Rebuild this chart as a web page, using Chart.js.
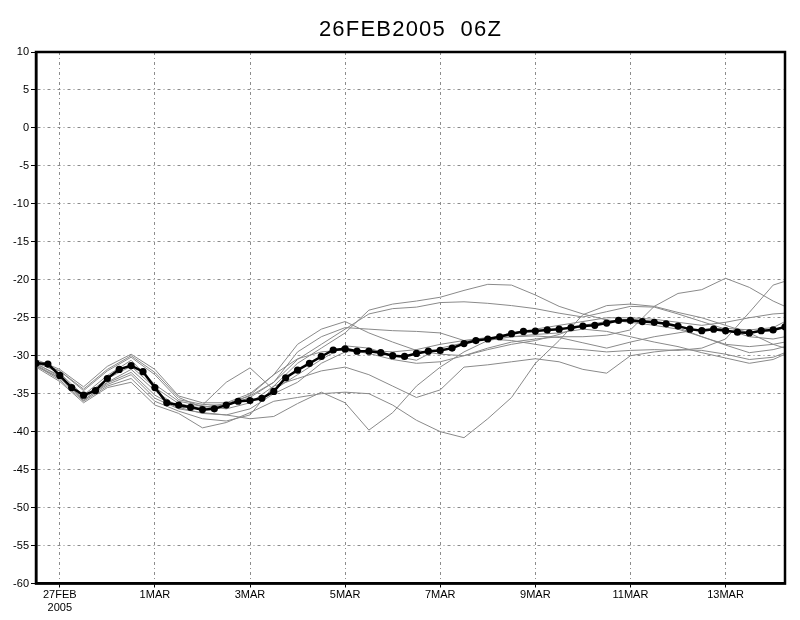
<!DOCTYPE html>
<html>
<head>
<meta charset="utf-8">
<script src="https://cdn.jsdelivr.net/npm/chart.js@4/dist/chart.umd.min.js"></script>
<style>
  html, body { margin: 0; padding: 0; background: #fff; }
  #wrap { width: 800px; height: 620px; }
</style>
</head>
<body>
<div id="wrap"><canvas id="chart" width="800" height="620"></canvas></div>
<script>
// Time axis: hours after 26FEB2005 12Z (forecast from 06Z run)
const xTickHours = [12, 60, 108, 156, 204, 252, 300, 348];
const xTickLabels = [['27FEB', '2005'], '1MAR', '3MAR', '5MAR', '7MAR', '9MAR', '11MAR', '13MAR'];
const titleText = '26FEB2005  06Z';

// Ensemble mean, every 6 hours
const meanVals = [-31, -31.1, -32.6, -34.2, -35.2, -34.6, -33.0, -31.8, -31.3, -32.1,
  -34.2, -36.2, -36.5, -36.8, -37.1, -37.0, -36.5, -36.0, -35.9, -35.6,
  -34.7, -32.9, -31.9, -31.0, -30.1, -29.25, -29.1, -29.4, -29.4, -29.6,
  -30.0, -30.1, -29.7, -29.4, -29.3, -29.0, -28.4, -28.0, -27.8, -27.5,
  -27.1, -26.8, -26.75, -26.6, -26.5, -26.3, -26.1, -26.0, -25.7, -25.35,
  -25.35, -25.5, -25.6, -25.8, -26.1, -26.5, -26.7, -26.5, -26.7, -26.9,
  -27.0, -26.7, -26.6, -26.2];

// Members, every 12 hours (last one at +378h)
const member1 = [-30.8, -32.3, -35.2, -32.6, -30.6, -33.8, -36, -36.6, -37, -36.2,
  -34, -31, -29, -27, -24, -23.2, -22.8, -22.3, -21.4, -20.6, -20.7, -22, -23.5, -24.5,
  -25.3, -25.6, -26, -26.5, -27.5, -28.5, -28.8, -28.5, -28.2];
const member2 = [-31.0, -32.0, -34.6, -32.0, -30.2, -32.5, -35.8, -36.4, -36.6, -35.5,
  -33.5, -30.5, -28.5, -26.5, -24.5, -23.8, -23.6, -23, -22.9, -23.1, -23.4, -23.8, -24.4, -24.9,
  -24.2, -23.5, -23.6, -24.5, -25.5, -26.5, -27.5, -27.8, -27.5];
const member3 = [-30.5, -31.8, -34.1, -31.4, -29.8, -31.8, -35.3, -36.2, -36.2, -35,
  -32.5, -30.4, -29.5, -29.2, -29.7, -30.5, -31, -30.8, -30, -29, -28.2, -27.8, -27.5, -27.5,
  -27.3, -26.6, -23.5, -21.8, -21.3, -19.8, -21, -22.8, -23.5];
const member4 = [-31.2, -33.0, -35.6, -33.5, -31.8, -34.6, -36.8, -37.6, -37.8, -37,
  -35, -33.5, -31, -29.5, -29.3, -29.5, -29.2, -28.5, -28, -27.8, -28, -28.5, -29, -29.2,
  -29.5, -29.3, -29.2, -29.3, -29, -27.8, -24.3, -20.7, -20.2];
const member5 = [-31.5, -33.4, -36.2, -34.2, -33.5, -36.5, -37.6, -39.5, -38.8, -37.5,
  -36, -35.5, -35, -34.8, -35, -36.5, -38.5, -40, -40.8, -38.3, -35.5, -31, -28, -24.6,
  -23.4, -23.2, -23.5, -24.3, -25, -26, -27, -28.5, -29];
const member6 = [-31.0, -32.8, -35.8, -33.8, -32.5, -35.6, -37, -37.5, -37.8, -38.3,
  -38, -36.3, -34.8, -36.2, -39.8, -37.5, -34, -31.5, -29.5, -28, -27.5, -27.2, -27, -26.5,
  -26.8, -27.5, -28.2, -28.8, -29.6, -30.3, -31, -30.5, -29.8];
const member7 = [-31.3, -33.2, -36, -34, -33, -36, -37.3, -38.3, -38.6, -37.8,
  -34, -33, -32, -31.5, -32.5, -34, -35.5, -34.5, -31.5, -31.2, -30.8, -30.4, -30.8, -31.8,
  -32.3, -30, -29.5, -29.2, -29.3, -29.8, -30.5, -30.2, -29.6];
const member8 = [-30.7, -32.0, -34.4, -31.8, -30.0, -32.2, -35.5, -36.8, -36.3, -35.3,
  -33.5, -29.5, -27.5, -26.3, -26.5, -26.7, -26.8, -27, -28, -27.6, -27.5, -27.4, -27.6, -28.3,
  -29, -28.2, -27.5, -27, -26.5, -26.4, -26.6, -26.3, -25.5];
const member9 = [-31.1, -32.6, -35.4, -33.0, -31.4, -34.2, -36.3, -37, -36.5, -35.2,
  -32.5, -28.5, -26.5, -25.5, -27, -28.2, -29.3, -29.8, -30, -29.2, -28.5, -28, -27.2, -26,
  -25.5, -25.2, -25.5, -26.3, -27.5, -28.6, -29.6, -29.2, -28.8];
const member10 = [-31.4, -32.9, -35.9, -33.6, -32.2, -35.2, -36.9, -36.5, -33.5, -31.6,
  -34.5, -32.5, -30.5, -28.7, -29, -30, -30.6, -29, -28.3, -27.8, -27, -26.5, -26, -25.5,
  -25, -25, -25.2, -25.6, -26, -25.6, -25, -24.5, -24.4];

const members = [member1, member2, member3, member4, member5, member6, member7, member8, member9, member10];

const meanHours = meanVals.map((v, i) => i * 6);
const memberHours = member1.map((v, i) => Math.min(i * 12, 378));

// Frame round the plot, and the title centred over it
const frame = {
  id: 'frame',
  afterDatasetsDraw(chart) {
    const a = chart.chartArea, c = chart.ctx;
    c.save();
    c.strokeStyle = '#000';
    c.lineWidth = 2.5;
    c.strokeRect(a.left, a.top, a.right - a.left, a.bottom - a.top);
    c.fillStyle = '#000';
    c.font = '22px "Liberation Sans"';
    c.letterSpacing = '1.2px';
    c.textAlign = 'center';
    c.textBaseline = 'middle';
    c.fillText(titleText, (a.left + a.right) / 2, 30);
    c.restore();
  }
};

const datasets = [{
  label: 'mean',
  data: meanVals.map((v, i) => ({ x: meanHours[i], y: v })),
  borderColor: '#000',
  backgroundColor: '#000',
  borderWidth: 2.5,
  pointRadius: 3.6,
  pointBorderWidth: 0,
  tension: 0
}];
members.forEach((m, k) => {
  datasets.push({
    label: 'member ' + (k + 1),
    data: m.map((v, i) => ({ x: memberHours[i], y: v })),
    borderColor: '#8a8a8a',
    borderWidth: 1,
    pointRadius: 0,
    tension: 0
  });
});

new Chart(document.getElementById('chart'), {
  type: 'line',
  data: { datasets: datasets },
  plugins: [frame],
  options: {
    responsive: false,
    animation: false,
    devicePixelRatio: 1,
    layout: { padding: { left: 0, right: 15, top: 52, bottom: 0 } },
    plugins: {
      legend: { display: false },
      tooltip: { enabled: false },
      title: { display: false }
    },
    scales: {
      x: {
        type: 'linear',
        min: 0,
        max: 378,
        afterBuildTicks: (scale) => { scale.ticks = xTickHours.map(h => ({ value: h })); },
        afterFit: (scale) => { scale.height = 36.5; },
        ticks: {
          autoSkip: false,
          maxRotation: 0,
          padding: 1,
          color: '#000',
          font: { family: 'Liberation Sans', size: 11 },
          callback: (value) => {
            const k = xTickHours.indexOf(value);
            return k >= 0 ? xTickLabels[k] : '';
          }
        },
        grid: { color: '#8c8c8c', lineWidth: 1, tickLength: 4, tickColor: '#000', tickBorderDash: [] },
        border: { color: '#000', width: 2.5, dash: [3, 3, 1, 3] }
      },
      y: {
        min: -60,
        max: 10,
        afterFit: (scale) => { scale.width = 36; },
        ticks: {
          stepSize: 5,
          padding: 2,
          color: '#000',
          font: { family: 'Liberation Sans', size: 11 }
        },
        grid: { color: '#8c8c8c', lineWidth: 1, tickLength: 5, tickColor: '#000', tickBorderDash: [] },
        border: { color: '#000', width: 2.5, dash: [3, 3, 1, 3] }
      }
    }
  }
});
</script>
</body>
</html>
